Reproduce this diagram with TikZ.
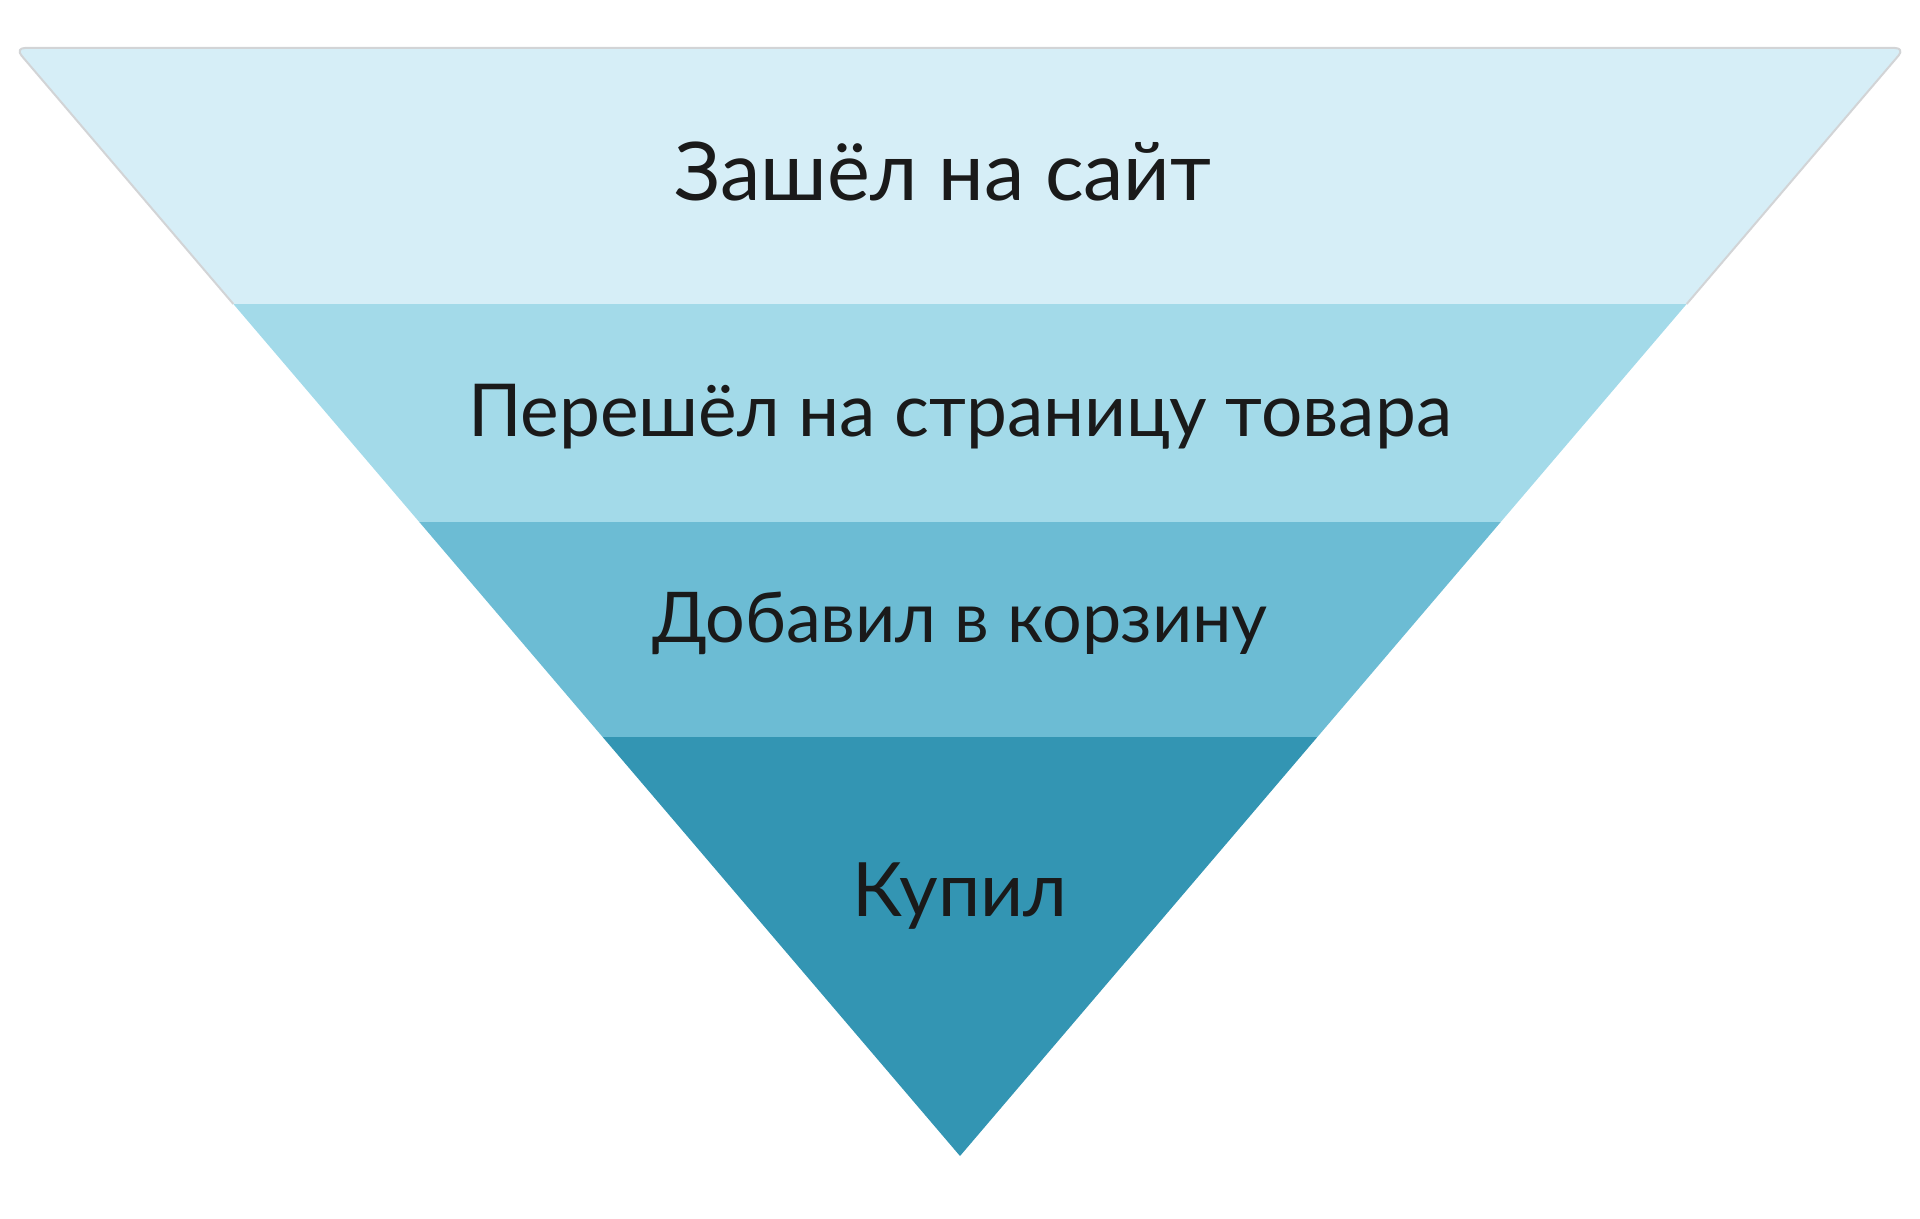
\documentclass[tikz,border=0pt]{standalone}
\usepackage{fontspec}
\setmainfont{Lato}
\usetikzlibrary{calc}

\definecolor{bandA}{HTML}{D6EEF7}
\definecolor{bandB}{HTML}{A3DAE9}
\definecolor{bandC}{HTML}{6CBCD4}
\definecolor{bandD}{HTML}{3395B3}
\definecolor{edgegray}{HTML}{D2D4D6}
\definecolor{ink}{HTML}{1A1A1A}

\begin{document}
\begin{tikzpicture}[
  x=0.5pt, y=-0.5pt,  % pixel grid, origin at top-left
  every path/.style={line join=round},
  stage/.style={text=ink, anchor=base, inner sep=0pt}
]
\useasboundingbox (0,0) rectangle (1920,1219);

% ---------------- Funnel outline ----------------
\coordinate (TL) at (15,48);
\coordinate (TR) at (1905,48);
\coordinate (A)  at (960,1156); % apex

% band borders along the two slanted sides
\foreach \t/\n in {0.231/1, 0.428/2, 0.622/3} {
  \coordinate (L\n) at ($(TL)!\t!(A)$);
  \coordinate (R\n) at ($(TR)!\t!(A)$);
}

% ---------------- Bands ----------------
\fill[bandB] (L1) -- (R1) -- (R2) -- (L2) -- cycle;
\fill[bandC] (L2) -- (R2) -- (R3) -- (L3) -- cycle;
\fill[bandD] (L3) -- (R3) -- (A) -- cycle;
% top band: rounded top corners, thin grey rim
\filldraw[fill=bandA, draw=edgegray, line width=1pt, rounded corners=5pt]
  (L1) -- (TL) -- (TR) -- (R1);

% ---------------- Labels ----------------
\node[stage, font=\fontsize{40.5}{46}\selectfont] (visit)   at (943,201) {Зашёл на сайт};
\node[stage, font=\fontsize{36.5}{42}\selectfont] (product) at (960,436) {Перешёл на страницу товара};
\node[stage, font=\fontsize{35}{40}\selectfont]   (cart)    at (960,642) {Добавил в корзину};
\node[stage, font=\fontsize{37.5}{44}\selectfont] (buy)     at (960,916) {Купил};

\end{tikzpicture}
\end{document}
